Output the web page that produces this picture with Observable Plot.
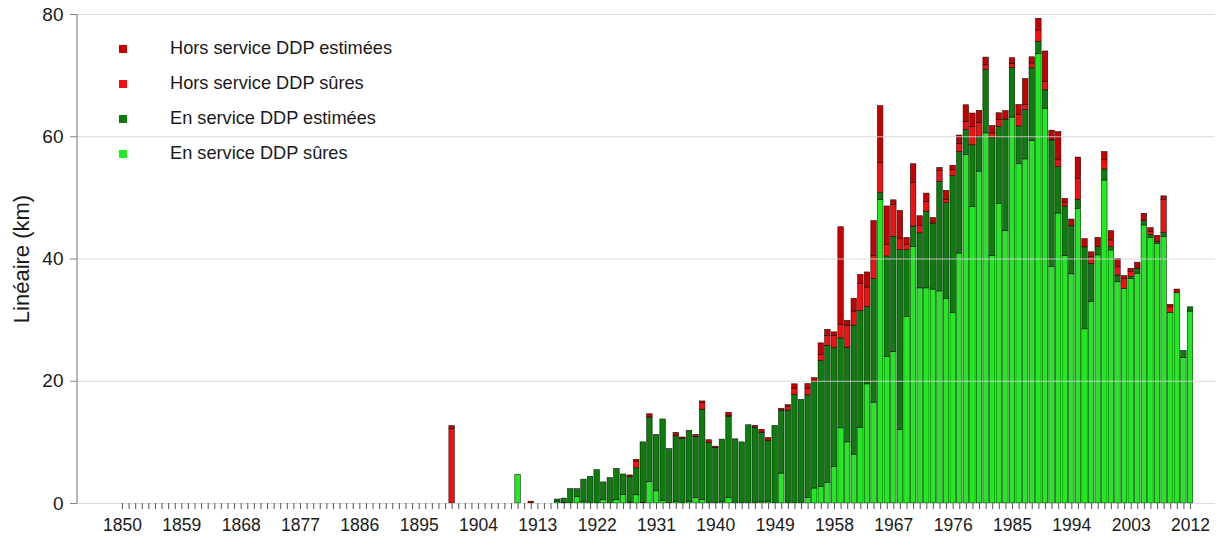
<!DOCTYPE html>
<html lang="fr">
<head>
<meta charset="utf-8">
<title>Linéaire de canalisations par année de pose</title>
<script src="https://cdn.jsdelivr.net/npm/d3@7"></script>
<script src="https://cdn.jsdelivr.net/npm/@observablehq/plot@0.6"></script>
<style>
  body { margin: 0; background: #fff; }
  #chart { position: relative; width: 1224px; height: 536px; font-family: "Liberation Sans", Arial, sans-serif; color: #1a1a1a; }
  #legend { position: absolute; left: 119px; top: 31.5px; }
  #legend .row { display: flex; align-items: center; height: 34.9px; font-size: 18.2px; white-space: nowrap; }
  #legend .sw { width: 8px; height: 8px; margin-right: 43px; }
  #ytitle { position: absolute; left: 22px; top: 259px; transform: translate(-50%, -50%) rotate(-90deg); font-size: 22px; white-space: nowrap; }
</style>
</head>
<body>
<div id="chart">
  <div id="ytitle">Linéaire (km)</div>
  <div id="legend"></div>
</div>
<script>
// Years of installation that carry a non-zero length (all other years are empty)
const years = [1900, 1910, 1912,
  1916, 1917, 1918, 1919, 1920, 1921, 1922, 1923, 1924, 1925, 1926, 1927, 1928, 1929,
  1930, 1931, 1932, 1933, 1934, 1935, 1936, 1937, 1938, 1939,
  1940, 1941, 1942, 1943, 1944, 1945, 1946, 1947, 1948, 1949,
  1950, 1951, 1952, 1953, 1954, 1955, 1956, 1957, 1958, 1959,
  1960, 1961, 1962, 1963, 1964, 1965, 1966, 1967, 1968, 1969,
  1970, 1971, 1972, 1973, 1974, 1975, 1976, 1977, 1978, 1979,
  1980, 1981, 1982, 1983, 1984, 1985, 1986, 1987, 1988, 1989,
  1990, 1991, 1992, 1993, 1994, 1995, 1996, 1997, 1998, 1999,
  2000, 2001, 2002, 2003, 2004, 2005, 2006, 2007, 2008, 2009,
  2010, 2011, 2012];

// Length (km) per year, one array per category, aligned with `years`
const enServiceSures = [0, 4.7, 0,
  0.3, 0.1, 0, 1.1, 0.2, 0, 0, 0.6, 0, 0.6, 1.4, 0.15, 1.35, 0.1,
  3.55, 2.0, 0.45, 0, 0.3, 0, 0.3, 0.9, 0.55, 0,
  0, 0.2, 0.9, 0, 0, 0, 0, 0.2, 0.3, 0,
  4.9, 0, 0, 0, 0.9, 2.45, 2.7, 3.4, 6.0, 12.3,
  10.0, 8.0, 12.4, 19.5, 16.5, 49.7, 24.0, 24.8, 12.0, 30.55,
  42.0, 35.2, 35.2, 35.0, 34.7, 33.5, 31.2, 40.9, 57.0, 48.5,
  54.3, 60.55, 40.5, 49.0, 44.6, 63.15, 55.5, 56.3, 59.3, 73.5,
  64.6, 38.7, 47.45, 40.5, 37.5, 48.2, 28.5, 33.0, 40.6, 52.85,
  41.4, 36.2, 35.1, 36.75, 37.6, 45.5, 43.45, 42.5, 43.6, 31.2,
  34.4, 23.8, 31.4];

const enServiceEstimees = [0, 0, 0,
  0.35, 0.7, 2.35, 1.25, 3.7, 4.35, 5.45, 2.85, 4.15, 5.05, 3.35, 4.15, 4.4, 9.9,
  10.5, 9.2, 13.3, 8.9, 10.7, 10.6, 11.6, 10.0, 14.8, 9.9,
  9.1, 10.25, 13.25, 10.5, 10.0, 12.8, 12.4, 11.35, 9.9, 12.7,
  10.3, 15.2, 17.8, 16.95, 16.8, 17.4, 20.6, 22.4, 19.4, 14.7,
  15.5, 21.1, 19.1, 12.65, 20.2, 1.1, 16.4, 18.8, 29.45, 10.9,
  3.3, 9.0, 12.55, 10.8, 17.9, 15.65, 22.35, 16.6, 4.1, 10.1,
  5.7, 10.35, 19.25, 12.65, 18.2, 8.1, 6.2, 8.1, 11.9, 2.0,
  3.0, 20.7, 7.6, 8.1, 7.85, 1.5, 13.4, 6.2, 1.35, 1.8,
  0.55, 1.1, 0, 0.3, 0.8, 0.7, 0.5, 0.3, 0.65, 0,
  0, 1.15, 0.7];

const horsServiceSures = [12.2, 0, 0,
  0, 0, 0, 0, 0, 0, 0, 0, 0, 0, 0, 0, 1.1, 0,
  0, 0, 0, 0, 0, 0, 0, 0, 1.1, 0,
  0, 0, 0.2, 0, 0, 0, 0, 0, 0, 0,
  0, 0.6, 1.0, 0, 1.0, 0, 1.0, 1.6, 2.0, 2.2,
  3.6, 2.3, 4.4, 3.2, 3.8, 4.9, 1.9, 5.2, 1.8, 0.8,
  7.1, 1.2, 1.6, 0, 1.8, 0.55, 1.0, 1.35, 1.35, 3.0,
  2.25, 0.8, 0.8, 1.1, 0, 0.7, 1.9, 0.8, 0.8, 1.9,
  1.35, 0, 1.1, 0.55, 0, 3.45, 0, 1.1, 0, 1.5,
  1.1, 1.35, 1.65, 0.8, 0, 0, 0.5, 0, 5.4, 0.9,
  0, 0, 0];

const horsServiceEstimees = [0.45, 0, 0.3,
  0, 0, 0, 0, 0, 0, 0, 0, 0, 0, 0, 0.3, 0.3, 0,
  0.55, 0, 0, 0, 0.55, 0.2, 0, 0.3, 0.25, 0.45,
  0.2, 0, 0.5, 0, 0, 0, 0.3, 0.5, 0.5, 0,
  0.3, 0.3, 0.7, 0, 0.85, 0.65, 1.9, 1.0, 0.6, 16.0,
  0.8, 2.1, 1.5, 2.45, 5.7, 9.3, 6.3, 0.8, 4.6, 1.2,
  3.1, 1.6, 1.35, 0.9, 0.5, 1.45, 0.7, 1.35, 2.7, 2.2,
  2.0, 1.25, 1.2, 1.1, 1.4, 0.9, 1.6, 4.25, 1.0, 1.9,
  5.0, 1.6, 4.6, 0.7, 1.1, 3.45, 1.35, 0.8, 1.5, 1.35,
  1.5, 1.35, 0.45, 0.55, 1.0, 1.2, 0.6, 1.0, 0.6, 0.4,
  0.6, 0, 0];

// Category labels (bottom to top of each stack) and their colours
const seriesNames = ["En service DDP sûres", "En service DDP estimées", "Hors service DDP sûres", "Hors service DDP estimées"];
const seriesColors = ["#1fec1f", "#0b7d0b", "#f21010", "#c40000"];
const seriesValues = [enServiceSures, enServiceEstimees, horsServiceSures, horsServiceEstimees];

// Axis ticks
const firstYear = 1850, lastYear = 2012;
const labelYears = [1850, 1859, 1868, 1877, 1886, 1895, 1904, 1913, 1922, 1931, 1940, 1949, 1958, 1967, 1976, 1985, 1994, 2003, 2012];
const yTicks = [0, 20, 40, 60, 80];

// Every year of the period gets a slot on the axis, even when empty
const allYears = d3.range(firstYear, lastYear + 1);

// Long table for the stacked bars, in stacking order within each year
const rows = [];
years.forEach((year, i) => {
  seriesNames.forEach((name, s) => {
    const value = seriesValues[s][i];
    if (value > 0) rows.push({year, series: name, value});
  });
});

const width = 1224, height = 536;
const margin = {top: 14, right: 9, bottom: 33, left: 77};

const chart = Plot.plot({
  width, height,
  marginTop: margin.top, marginRight: margin.right, marginBottom: margin.bottom, marginLeft: margin.left,
  style: {fontFamily: "'Liberation Sans', Arial, sans-serif", color: "#1a1a1a", background: "#fff"},
  x: {type: "band", domain: allYears, range: [margin.left + 42.25, width - margin.right - 22.25], paddingInner: 1 / 6, paddingOuter: 0},
  y: {domain: [0, 80]},
  color: {domain: seriesNames, range: seriesColors},
  marks: [
    Plot.barY(rows, {x: "year", y: "value", fill: "series", stroke: "#000", strokeWidth: 0.6, strokeOpacity: 0.85}),
    Plot.ruleY(yTicks, {stroke: "#d4d4d4", strokeWidth: 1, strokeOpacity: 0.85}),
    Plot.axisY({ticks: yTicks, tickSize: 7, tickPadding: 7, fontSize: 19, label: null, stroke: "#888"}),
    Plot.axisX({ticks: allYears, tickSize: 6, tickFormat: () => "", label: null, stroke: "#555"}),
    Plot.axisX({ticks: labelYears, tickSize: 0, tickPadding: 15, fontSize: 17.5, label: null, tickFormat: d => String(d)})
  ]
});

// Vertical axis line along the left edge of the frame
const y = chart.scale("y");
d3.select(chart).append("line")
  .attr("x1", margin.left).attr("x2", margin.left)
  .attr("y1", y.apply(0)).attr("y2", y.apply(80))
  .attr("stroke", "#888").attr("stroke-width", 1.2);

document.getElementById("chart").prepend(chart);

// Legend, top category first
const legend = d3.select("#legend");
seriesNames.map((name, s) => ({name, color: seriesColors[s]})).reverse().forEach(d => {
  const row = legend.append("div").attr("class", "row");
  row.append("div").attr("class", "sw").style("background", d.color);
  row.append("span").text(d.name);
});
</script>
</body>
</html>
